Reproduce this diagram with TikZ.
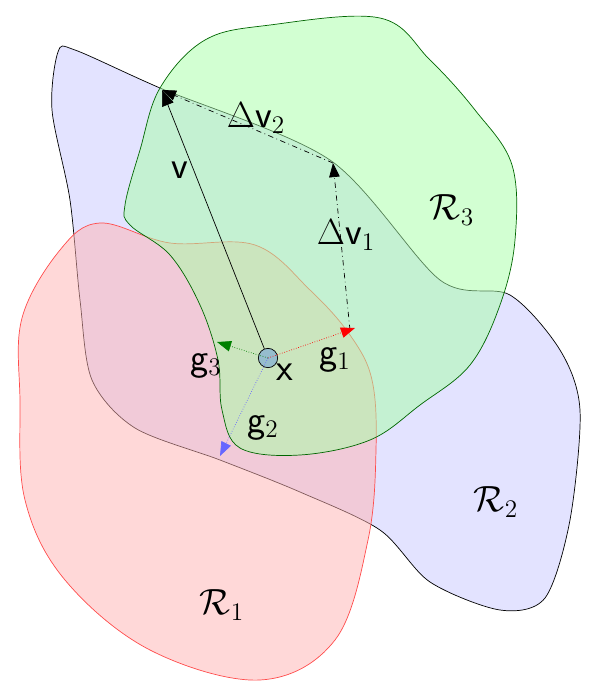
\documentclass[tikz,border=0pt]{standalone}
\usepackage{amsmath}
\usetikzlibrary{arrows.meta}
\tikzset{
region/.style={fill opacity=0.5, draw opacity=1, line width=0.4pt},
grad/.style={densely dotted, -{Triangle[width=6pt,length=8pt]}},
lbl/.style={font=\sffamily\fontsize{22}{24}\selectfont}
}
\begin{document}
\begin{tikzpicture}[x=0.02cm, y=-0.02cm]
        \path[use as bounding box] (0,0) rectangle (600,700);
		%regions
		\draw[region, draw=black, fill=blue!22] plot[smooth cycle, tension=0.5] coordinates {(58,52) (75,50) (160,88) (330,160) (440,280) (510,295) (560,350) (580,410) (570,520) (545,598) (500,610) (430,582) (380,530) (300,492) (220,460) (135,428) (92,380) (80,300) (70,200) (52,110)};
		\draw[region, draw=red!70, fill=red!30] plot[smooth cycle, tension=0.6] coordinates {(22,318) (60,250) (100,223) (170,243) (255,245) (310,290) (350,335) (372,380) (376,450) (368,540) (335,640) (260,680) (150,650) (65,580) (25,500) (20,400)};
		\draw[region, draw=green!40!black, fill=green!35] plot[smooth cycle, tension=0.6] coordinates {(160,88) (205,40) (270,25) (380,18) (430,60) (475,110) (512,165) (515,240) (500,305) (470,365) (420,405) (370,440) (300,455) (240,448) (222,410) (218,360) (200,305) (170,255) (130,225) (125,205) (140,150)};
		%point and vectors
		\node (x) at (268,358) [circle, draw, fill=cyan!40!gray!70, inner sep=0pt, minimum size=11pt] {};
		\coordinate (vtip) at (162,90);
		\coordinate (dv1) at (333,163);
		\coordinate (g1) at (355,328);
		\coordinate (g2) at (220,456);
		\coordinate (g3) at (217,342);
		\draw[-{Triangle[width=7pt,length=9pt]}] (x) -- (vtip);
		\draw[dash dot, -{Triangle[width=6pt,length=8pt]}] (350,330) -- (dv1);
		\draw[dash dot, -{Triangle[width=6pt,length=8pt]}] (dv1) -- (vtip);
		\draw[grad, red] (x.center) -- (g1);
		\draw[grad, blue!60] (x.center) -- (g2);
		\draw[grad, green!50!black] (x.center) -- (g3);
		%labels
		\node[lbl] at (180,170) {v};
		\node[lbl] at (256,118) {$\Delta$v$_2$};
		\node[lbl] at (346,235) {$\Delta$v$_1$};
		\node[lbl] at (335,360) {g$_1$};
		\node[lbl] at (263,428) {g$_2$};
		\node[lbl] at (206,366) {g$_3$};
		\node[lbl] at (285,372) {x};
		\node[lbl] at (452,210) {$\mathcal{R}_3$};
		\node[lbl] at (496,502) {$\mathcal{R}_2$};
		\node[lbl] at (222,605) {$\mathcal{R}_1$};
\end{tikzpicture}
\end{document}
